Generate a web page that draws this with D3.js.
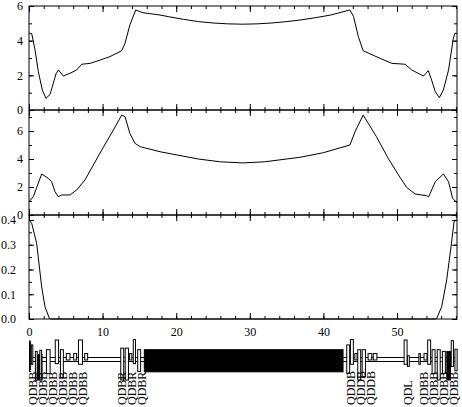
<!DOCTYPE html>
<html>
<head>
<meta charset="utf-8">
<script src="https://cdn.jsdelivr.net/npm/d3@7"></script>
<style>
  body { margin: 0; background: #fff; }
  svg text { font-family: "Liberation Serif", serif; font-size: 12px; fill: #000; }
</style>
</head>
<body>
<div id="chart"></div>
<script>
// === data ===
var sMax = 58.15;

var beta1 = [[0,4.42],[0.36,4.42],[0.82,3.46],[1.27,2.21],[1.81,1.15],[2.31,0.67],[2.86,0.9],[3.3,1.54],
  [3.68,2.1],[4.0,2.31],[4.67,1.96],[5.57,2.12],[6.48,2.31],[7.16,2.64],[8.3,2.69],[9.66,2.88],[11.0,3.08],
  [12.6,3.42],[13.05,3.85],[13.7,4.9],[14.5,5.77],[15.5,5.61],[17.8,5.48],[19,5.38],[21,5.23],[23,5.1],
  [25,5.02],[27,4.97],[29.05,4.95],[31,4.97],[33,5.02],[35,5.1],[36.8,5.19],[39,5.33],[41,5.48],[43.6,5.77],
  [44.1,5.38],[44.75,4.23],[45.4,3.42],[47.7,2.98],[49.3,2.69],[51.1,2.64],[52.0,2.31],[53.6,1.96],
  [54.25,2.27],[54.7,1.73],[55.2,1.06],[55.75,0.71],[56.3,1.15],[57.0,2.31],[57.65,4.13],[57.85,4.42],[58.15,4.42]];

var beta2 = [[0,0.95],[0.59,1.31],[1.72,2.93],[2.63,2.62],[3.08,2.38],[3.53,1.67],[3.98,1.31],[4.43,1.43],
  [5.57,1.43],[6.48,1.79],[7.6,2.5],[8.74,3.57],[9.88,4.64],[11.46,6.07],[12.6,7.14],[13.05,7.02],[13.7,5.83],
  [14.4,5.12],[15.1,4.88],[17.8,4.52],[20,4.3],[23,4.0],[26,3.8],[29.05,3.72],[32,3.8],[35,4.0],[36.8,4.12],
  [40,4.45],[43.6,5.0],[44.3,5.95],[45.4,7.14],[47.2,5.6],[48.8,4.05],[50.2,2.86],[51.3,1.98],[52.45,1.5],
  [54.0,1.38],[54.3,1.3],[55.2,2.38],[56.3,2.93],[57.0,2.38],[57.55,1.19],[58.15,0.88]];

var disp = [[0,0.40],[0.36,0.387],[1.04,0.306],[1.72,0.13],[2.17,0.05],[2.76,0.003],[3.0,0],
  [55.2,0],[55.4,0.003],[56.07,0.05],[56.75,0.158],[57.4,0.306],[57.75,0.394],[58.15,0.40]];

var xTicks = [0, 10, 20, 30, 40, 50];
var y1Ticks = [0, 2, 4, 6];
var y2Ticks = [0, 2, 4, 6];
var y3Ticks = [0, 0.1, 0.2, 0.3, 0.4];

// lattice elements: [s start, s end, low, high, filled]
var elements = [
  [0.0,0.15,-0.53,0.88,0],[0.25,0.45,-0.2,0.7,0],[0.85,1.7,-0.93,0.25,1],[0.8,1.05,-0.93,0.4,0],
  [1.4,1.65,-0.93,0.45,0],[2.3,2.8,-0.63,0.48,0],[3.5,3.95,-0.17,0.93,0],[4.2,4.6,-0.83,0.48,0],
  [5.0,5.5,0,0.3,0],[6.0,6.4,0,0.3,0],[6.65,7.2,-0.2,0.93,0],[7.5,7.9,0,0.3,0],
  [12.4,12.8,-0.93,0.55,0],[13.0,13.45,-0.93,0.55,0],[13.6,13.9,0,0.3,0],[14.1,14.4,-0.17,0.95,0],
  [14.7,15.1,-0.53,0.48,0],
  [15.6,42.6,-0.55,0.48,1],
  [43.1,43.5,-0.63,0.7,0],[43.6,44.0,-0.2,0.95,0],[44.2,44.5,0,0.3,0],[44.6,45.0,-0.93,0.48,0],
  [45.2,45.65,-0.78,0.48,0],[46.0,46.5,0,0.3,0],[46.7,47.2,0,0.3,0],
  [50.9,51.3,-0.2,0.93,0],[51.35,51.6,-0.3,0.2,0],
  [52.9,53.1,-0.2,0.3,0],[53.6,54.0,0,0.3,0],[54.1,54.5,-0.2,0.93,0],[54.7,55.1,-0.63,0.48,0],
  [55.4,55.8,-0.93,0.48,0],[56.1,56.5,-0.63,0.4,0],[56.7,57.2,-0.93,0.4,1],[57.3,57.6,-0.3,0.9,0],
  [57.8,58.1,-0.5,0.5,0]
];
var labelPos = [0.54,1.9,3.26,4.62,5.98,7.34,12.6,14.0,15.35,43.75,45.1,46.5,51.5,53.7,55.0,56.4,57.7];
var labelNames = ["QDBB","QDBB","QDBB","QDBB","QDBB","QDBB","QDBR","QDBR","QDBR",
  "QDDB","QDDB","QDDB","QDL","QDBB","QDBB","QDBB","QDBB"];

// === layout ===
var W = 462, H = 407, left = 29, right = 457;
var panels = [
  { data: beta1, top: 6, bottom: 110, max: 6, ticks: y1Ticks, minor: 1, fmt: d3.format("d"), pad: 6 },
  { data: beta2, top: 110, bottom: 215, max: 7.5, ticks: y2Ticks, minor: 1, fmt: d3.format("d"), pad: 6 },
  { data: disp, top: 215, bottom: 319, max: 0.42, ticks: y3Ticks, minor: 0.05, fmt: d3.format(".1f"), pad: 13 }
];

var svg = d3.select("#chart").append("svg").attr("width", W).attr("height", H);
var x = d3.scaleLinear().domain([0, sMax]).range([left, right]);
var xMinor = d3.range(0, sMax, 2);

panels.forEach(function (p, i) {
  var y = d3.scaleLinear().domain([0, p.max]).range([p.bottom, p.top]);
  var yMinor = d3.range(0, p.max + 1e-9, p.minor);
  var g = svg.append("g");

  // inward ticks on all four sides
  function ax(axisFn, scale, vals, size, fmt, tr, pad) {
    var a = axisFn(scale).tickValues(vals).tickSize(-size).tickSizeOuter(0).tickPadding(pad || 4);
    a.tickFormat(fmt ? fmt : function () { return ""; });
    var s = g.append("g").attr("transform", tr).call(a);
    s.attr("font-family", null).attr("font-size", null);
    s.select(".domain").remove();
    s.selectAll("line").attr("stroke", "#000");
    return s;
  }
  ax(d3.axisBottom, x, xMinor, 3, null, "translate(0," + p.bottom + ")");
  ax(d3.axisTop, x, xMinor, 3, null, "translate(0," + p.top + ")");
  ax(d3.axisLeft, y, yMinor, 3, null, "translate(" + left + ",0)");
  ax(d3.axisRight, y, yMinor, 3, null, "translate(" + right + ",0)");
  ax(d3.axisTop, x, xTicks, 6, null, "translate(0," + p.top + ")");
  ax(d3.axisRight, y, p.ticks, 5, null, "translate(" + right + ",0)");
  var yl = ax(d3.axisLeft, y, p.ticks, 5, p.fmt, "translate(" + left + ",0)");
  yl.selectAll("text").attr("x", -p.pad);
  var xb = ax(d3.axisBottom, x, xTicks, 6, i == 2 ? d3.format("d") : null, "translate(0," + p.bottom + ")");
  xb.selectAll("text").attr("y", 8);

  g.append("rect")
    .attr("x", left).attr("y", p.top)
    .attr("width", right - left).attr("height", p.bottom - p.top)
    .attr("fill", "none").attr("stroke", "#000");

  g.append("path")
    .datum(p.data)
    .attr("fill", "none").attr("stroke", "#000").attr("stroke-width", 1)
    .attr("d", d3.line().x(function (d) { return x(d[0]); }).y(function (d) { return y(d[1]); }));
});

// === lattice ===
var ly = d3.scaleLinear().domain([-1, 1]).range([381, 338]);
var lat = svg.append("g");
lat.append("line").attr("x1", x(0)).attr("x2", x(sMax))
  .attr("y1", ly(0) - 2).attr("y2", ly(0) - 2).attr("stroke", "#000");
lat.append("line").attr("x1", x(0)).attr("x2", x(sMax))
  .attr("y1", ly(0) + 2).attr("y2", ly(0) + 2).attr("stroke", "#000");

lat.selectAll("rect.el")
  .data(elements)
  .enter().append("rect")
  .attr("class", "el")
  .attr("x", function (d) { return x(d[0]) + 0.5; })
  .attr("width", function (d) { return Math.max(1, x(d[1]) - x(d[0])); })
  .attr("y", function (d) { return ly(d[3]) + 0.5; })
  .attr("height", function (d) { return ly(d[2]) - ly(d[3]); })
  .attr("fill", function (d) { return d[4] ? "#000" : "#fff"; })
  .attr("stroke", "#000");

lat.selectAll("text.lbl")
  .data(labelPos)
  .enter().append("text")
  .attr("class", "lbl")
  .attr("transform", function (d) { return "translate(" + x(d) + ",405) rotate(-90)"; })
  .attr("dy", "0.35em")
  .text(function (d, i) { return labelNames[i]; });
</script>
</body>
</html>
